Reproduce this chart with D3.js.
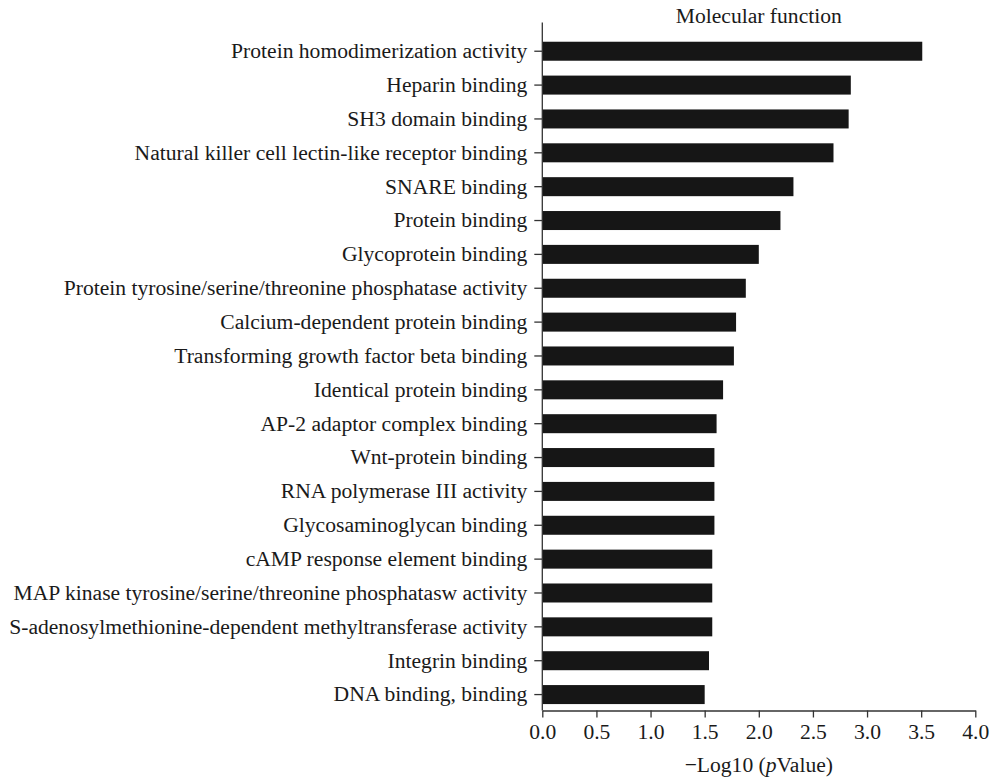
<!DOCTYPE html>
<html>
<head>
<meta charset="utf-8">
<script src="https://cdn.jsdelivr.net/npm/d3@7"></script>
<style>
  html, body { margin: 0; padding: 0; background: #fff; }
  svg { display: block; font-family: "Liberation Serif", "DejaVu Serif", serif; }
</style>
</head>
<body>
<svg id="chart" width="991" height="782"></svg>
<script>
const categories = [
  "Protein homodimerization activity",
  "Heparin binding",
  "SH3 domain binding",
  "Natural killer cell lectin-like receptor binding",
  "SNARE binding",
  "Protein binding",
  "Glycoprotein binding",
  "Protein tyrosine/serine/threonine phosphatase activity",
  "Calcium-dependent protein binding",
  "Transforming growth factor beta binding",
  "Identical protein binding",
  "AP-2 adaptor complex binding",
  "Wnt-protein binding",
  "RNA polymerase III activity",
  "Glycosaminoglycan binding",
  "cAMP response element binding",
  "MAP kinase tyrosine/serine/threonine phosphatasw activity",
  "S-adenosylmethionine-dependent methyltransferase activity",
  "Integrin binding",
  "DNA binding, binding"
];
const values = [3.51, 2.85, 2.83, 2.69, 2.32, 2.20, 2.00, 1.88, 1.79, 1.77,
                1.67, 1.61, 1.59, 1.59, 1.59, 1.57, 1.57, 1.57, 1.54, 1.50];
const xTicks = [0, 0.5, 1.0, 1.5, 2.0, 2.5, 3.0, 3.5, 4.0];
const chartTitle = "Molecular function";

const svg = d3.select("#chart");
const left = 542.3, right = 975.3, axisY = 710.5, axisTop = 22.5;
const fs = 21.6;

const x = d3.scaleLinear().domain([0, 4]).range([left, right]);
const pad = 1 - 19 / 33.86;
const y = d3.scaleBand().domain(categories)
  .range([34.3, 34.3 + 20 * 33.86])
  .paddingInner(pad).paddingOuter(pad / 2);

// bars
svg.append("g").selectAll("rect").data(categories).join("rect")
  .attr("x", x(0))
  .attr("y", d => y(d))
  .attr("width", (d, i) => x(values[i]) - x(0))
  .attr("height", y.bandwidth())
  .attr("fill", "#161616");

// y axis
const yAxis = svg.append("g")
  .attr("transform", `translate(${left},0)`)
  .call(d3.axisLeft(y).tickSize(8).tickPadding(7).tickSizeOuter(0));
yAxis.select(".domain").remove();
yAxis.selectAll("line").attr("stroke", "#333").attr("stroke-width", 1.3);
yAxis.selectAll("text").attr("font-size", fs).attr("fill", "#1a1a1a")
  .attr("font-family", "Liberation Serif");

svg.append("line")
  .attr("x1", left).attr("x2", left)
  .attr("y1", axisTop).attr("y2", axisY)
  .attr("stroke", "#333").attr("stroke-width", 1.3);

// x axis
const xAxis = svg.append("g")
  .attr("transform", `translate(0,${axisY})`)
  .call(d3.axisBottom(x).tickValues(xTicks).tickFormat(d3.format(".1f"))
    .tickSize(7).tickPadding(6).tickSizeOuter(0));
xAxis.select(".domain").attr("stroke", "#333").attr("stroke-width", 1.3);
xAxis.selectAll("line").attr("stroke", "#333").attr("stroke-width", 1.3);
xAxis.selectAll("text").attr("font-size", fs).attr("fill", "#1a1a1a")
  .attr("font-family", "Liberation Serif");

// x axis title
const xt = svg.append("text")
  .attr("x", (left + right) / 2).attr("y", 772)
  .attr("text-anchor", "middle")
  .attr("font-size", fs).attr("fill", "#1a1a1a");
xt.append("tspan").text("\u2212Log10 (");
xt.append("tspan").attr("font-style", "italic").text("p");
xt.append("tspan").text("Value)");

// chart title
svg.append("text")
  .attr("x", (left + right) / 2).attr("y", 23)
  .attr("text-anchor", "middle")
  .attr("font-size", fs).attr("fill", "#1a1a1a")
  .text(chartTitle);
</script>
</body>
</html>
